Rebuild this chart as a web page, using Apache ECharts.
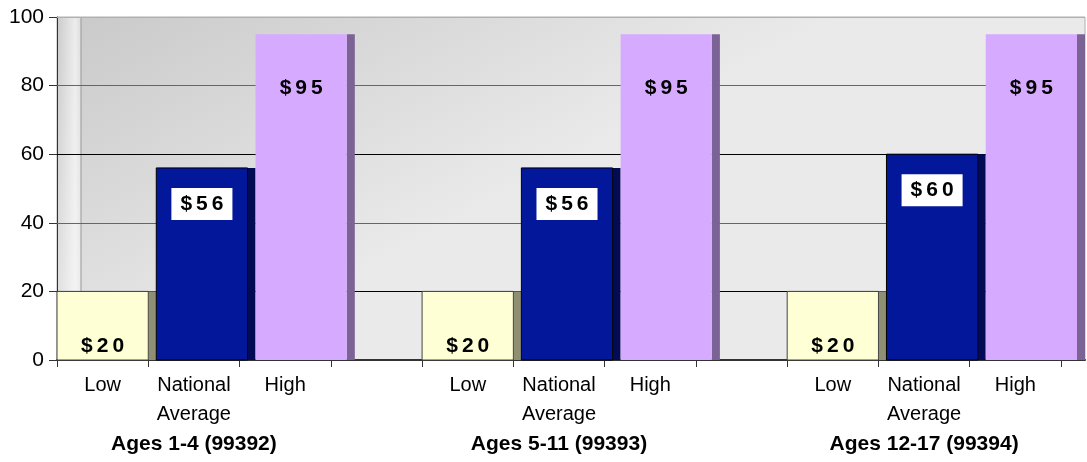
<!DOCTYPE html>
<html>
<head>
<meta charset="utf-8">
<title>Well child visit fees</title>
<script src="https://cdn.jsdelivr.net/npm/echarts@6/dist/echarts.min.js"></script>
<style>
  html, body { margin: 0; padding: 0; background: #fff; }
  #chart { width: 1087px; height: 462px; }
</style>
</head>
<body>
<div id="chart"></div>
<script>
const groupNames = ['Ages 1-4 (99392)', 'Ages 5-11 (99393)', 'Ages 12-17 (99394)']
const tierNames = ['Low', 'National\nAverage', 'High']
const lowFees = [20, 20, 20]
const averageFees = [56, 56, 60]
const highFees = [95, 95, 95]
const yTicks = [0, 20, 40, 60, 80, 100]

const fontFamily = "Arial, 'Liberation Sans', sans-serif"
const depth = 8 // fake 3d side of each bar
const gridLeft = 57
const gridTop = 17
const gridBottom = 102

const tierStyles = [
  { front: '#ffffd5', side: '#8f8f74', stroke: '#444', labelY: (top, base) => base - 14, box: false },
  { front: '#03179a', side: '#030b55', stroke: '#000', labelY: (top, base) => top + 36, box: true },
  { front: '#d6aaff', side: '#7b6396', stroke: null, labelY: (top, base) => top + 54, box: false }
]

// three bars per age group, with an empty slot between groups
const slotsPerGroup = tierNames.length + 1
const categories = []
groupNames.forEach((g, i) => {
  tierNames.forEach(t => categories.push(t))
  if (i < groupNames.length - 1) categories.push('')
})
const feesByTier = [lowFees, averageFees, highFees]

function dollarText(v) {
  return ('$' + v).split('').map(ch => '{c|' + ch + '}').join('')
}

function renderBar(tier) {
  const s = tierStyles[tier]
  return function(params, api) {
    const cat = api.value(0)
    const val = api.value(1)
    const top = api.coord([cat, val])
    const base = api.coord([cat, 0])
    const band = api.size([1, 0])[0]
    const x0 = base[0] - band / 2 + tier * depth
    const h = base[1] - top[1]
    const label = {
      type: 'text',
      x: x0 + band / 2,
      y: s.labelY(top[1], base[1]),
      style: {
        text: dollarText(val),
        align: 'center',
        verticalAlign: 'middle',
        fill: '#000',
        backgroundColor: s.box ? '#fff' : null,
        padding: s.box ? [5, 7, 5, 7] : 0,
        rich: {
          c: { fontSize: 21, fontWeight: 'bold', fontFamily: fontFamily, fill: '#000', padding: [0, 2], lineHeight: 22 }
        }
      }
    }
    return {
      type: 'group',
      children: [
        { type: 'rect', shape: { x: x0 + band, y: top[1], width: depth, height: h }, style: { fill: s.side } },
        { type: 'rect', shape: { x: x0, y: top[1], width: band, height: h }, style: { fill: s.front, stroke: s.stroke, lineWidth: 1 } },
        label
      ]
    }
  }
}

const chart = echarts.init(document.getElementById('chart'))
chart.setOption({
  animation: false,
  grid: [
    // bars and category slots
    { left: gridLeft, right: 26, top: gridTop, bottom: gridBottom },
    // plot wall, a bit wider than the slots
    {
      left: gridLeft, right: 2, top: gridTop, bottom: gridBottom,
      show: true,
      borderColor: '#b0b0b0',
      borderWidth: 1,
      backgroundColor: {
        type: 'linear', x: 0, y: 0, x2: 0.17, y2: 0.95,
        colorStops: [{ offset: 0, color: '#c9c9c9' }, { offset: 1, color: '#eaeaea' }]
      }
    }
  ],
  graphic: [
    {
      type: 'rect',
      z: 0.5,
      silent: true,
      shape: { x: gridLeft + 1, y: gridTop, width: 23, height: 462 - gridBottom - gridTop },
      style: {
        fill: {
          type: 'linear', x: 0, y: 0, x2: 1, y2: 0,
          colorStops: [
            { offset: 0, color: 'rgba(255,255,255,0.05)' },
            { offset: 0.75, color: 'rgba(255,255,255,0.65)' },
            { offset: 1, color: 'rgba(255,255,255,0.35)' }
          ]
        }
      }
    },
    {
      type: 'line',
      z: 0.5,
      silent: true,
      shape: { x1: gridLeft + 24, y1: gridTop, x2: gridLeft + 24, y2: 462 - gridBottom },
      style: { stroke: '#999', lineWidth: 1 }
    }
  ],
  xAxis: [
    {
      type: 'category',
      gridIndex: 0,
      data: categories,
      boundaryGap: true,
      axisLine: { show: false },
      axisTick: { show: true, interval: 0, length: 7, lineStyle: { color: '#333' } },
      axisLabel: {
        interval: 0,
        margin: 11,
        color: '#000',
        fontSize: 20,
        fontFamily: fontFamily,
        lineHeight: 29,
        formatter: function(value, index) {
          if (value.indexOf('National') === 0) {
            return value + '\n{g|' + groupNames[Math.floor(index / slotsPerGroup)] + '}'
          }
          return value
        },
        rich: {
          g: { fontSize: 21, fontWeight: 'bold', fontFamily: fontFamily, color: '#000', lineHeight: 30 }
        }
      },
      splitLine: { show: false }
    },
    {
      type: 'value',
      gridIndex: 1,
      min: 0,
      max: 1,
      z: 1,
      axisLine: { show: true, lineStyle: { color: '#333', width: 2 } },
      axisTick: { show: false },
      axisLabel: { show: false },
      splitLine: { show: false }
    }
  ],
  yAxis: [
    {
      type: 'value',
      gridIndex: 0,
      min: yTicks[0],
      max: yTicks[yTicks.length - 1],
      interval: yTicks[1] - yTicks[0],
      axisLine: { show: true, lineStyle: { color: '#333', width: 1 } },
      axisTick: { show: true, length: 8, lineStyle: { color: '#333' } },
      axisLabel: { margin: 13, color: '#000', fontSize: 21, fontFamily: fontFamily },
      splitLine: { show: false }
    },
    {
      type: 'value',
      gridIndex: 1,
      min: yTicks[0],
      max: yTicks[yTicks.length - 1],
      interval: yTicks[1] - yTicks[0],
      z: 1,
      axisLine: { show: false },
      axisTick: { show: false },
      axisLabel: { show: false },
      splitLine: {
        show: true,
        lineStyle: { color: ['#333', '#000', '#666', '#000', '#666', '#b0b0b0'], width: 1 }
      }
    }
  ],
  series: tierNames.map((name, tier) => ({
    type: 'custom',
    name: name,
    xAxisIndex: 0,
    yAxisIndex: 0,
    renderItem: renderBar(tier),
    encode: { x: 0, y: 1 },
    data: feesByTier[tier].map((v, g) => [g * slotsPerGroup + tier, v])
  }))
})
</script>
</body>
</html>
